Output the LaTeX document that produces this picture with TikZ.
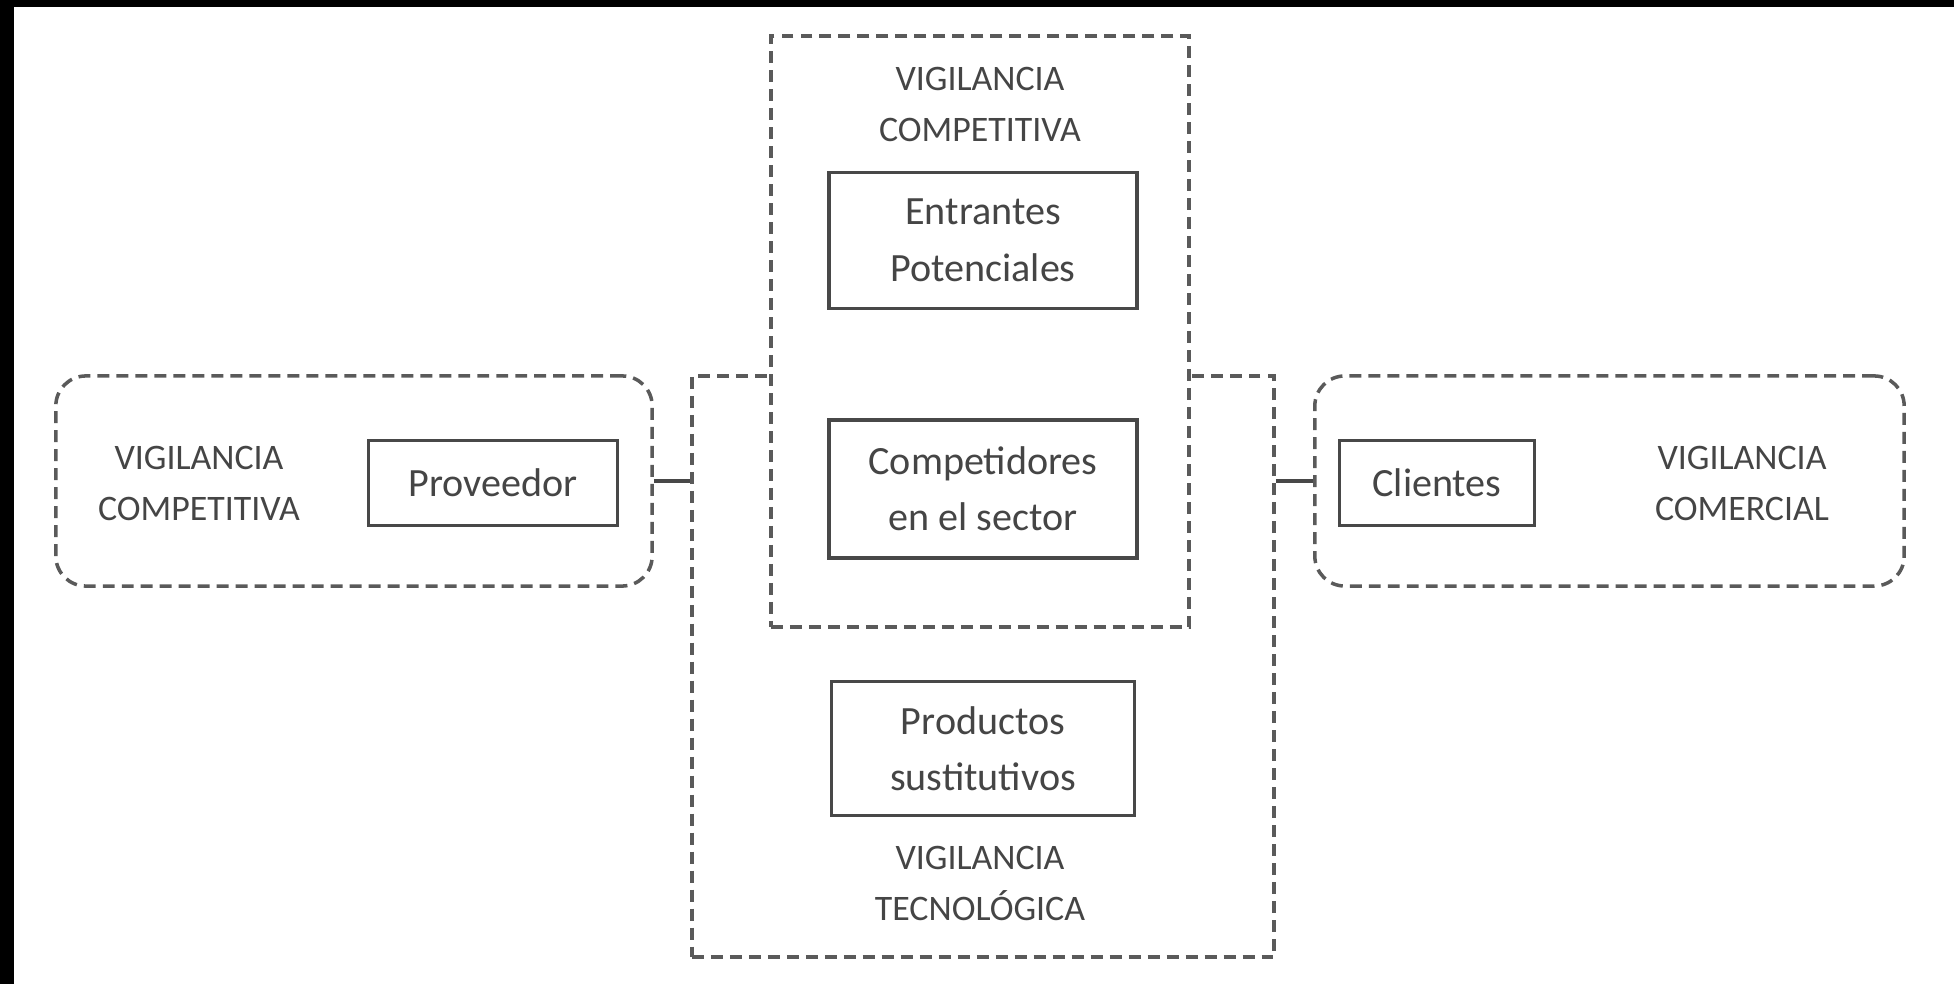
\documentclass[tikz,border=0pt]{standalone}
\usepackage{fontspec}
\setmainfont{Carlito}
\usetikzlibrary{positioning}
\definecolor{linegray}{HTML}{484848}
\definecolor{dashgray}{HTML}{5A5A5A}
\definecolor{txtgray}{HTML}{454545}

\begin{document}
\begin{tikzpicture}[x=0.01cm, y=0.01cm,
     node distance = 10.8mm and 4mm,
        box/.style = {rectangle, draw=linegray, line width=1pt, text=txtgray,
                      align=center, inner sep=0pt, font=\fontsize{11.4}{16}\selectfont},
       zone/.style = {rectangle, draw=dashgray, line width=1pt,
                      dash pattern=on 3.4pt off 2pt, inner sep=0pt},
      rzone/.style = {zone, rounded corners=3mm},
        lbl/.style = {align=center, text=txtgray, inner sep=0pt,
                      font=\fontsize{10.2}{14.5}\selectfont},
       conn/.style = {draw=linegray, line width=1pt}
                        ]
\useasboundingbox (0,0) rectangle (1954,984);
\fill[black] (0,0) rectangle (14,984);
\fill[black] (0,977) rectangle (1954,984);
% frames
\node (tecz)  [zone, minimum width=5.82cm, minimum height=5.81cm] at (983,317.5) {};
\node (compz) [zone, fill=white, minimum width=4.18cm, minimum height=5.91cm] at (980,652.5) {};
\node (provz) [rzone, minimum width=5.96cm, minimum height=2.1cm] at (354,503) {};
\node (cliz)  [rzone, minimum width=5.89cm, minimum height=2.1cm] at (1609.5,503) {};
% boxes
\node (comp) [box, minimum width=3.08cm, minimum height=1.38cm] at (983,495) {Competidores\\en el sector};
\node (entr) [box, minimum width=3.08cm, minimum height=1.36cm, above=of comp] {Entrantes\\Potenciales};
\node (prod) [box, minimum width=3.03cm, minimum height=1.34cm, below=12mm of comp] {Productos\\sustitutivos};
\node (prov) [box, minimum width=2.49cm, minimum height=0.85cm] at (493,501) {Proveedor};
\node (cli)  [box, minimum width=1.95cm, minimum height=0.85cm] at (1437,501) {Clientes};
% labels
\node (compl) [lbl] at (980,880) {VIGILANCIA\\COMPETITIVA};
\node (tecl)  [lbl] at (980,101) {VIGILANCIA\\TECNOLÓGICA};
\node (provl) [lbl] at (199,501) {VIGILANCIA\\COMPETITIVA};
\node (clil)  [lbl] at (1742,501) {VIGILANCIA\\COMERCIAL};
% connectors
\draw[conn] (provz.east) -- (tecz.west |- provz.east);
\draw[conn] (tecz.east |- cliz.west) -- (cliz.west);
\end{tikzpicture}
\end{document}
